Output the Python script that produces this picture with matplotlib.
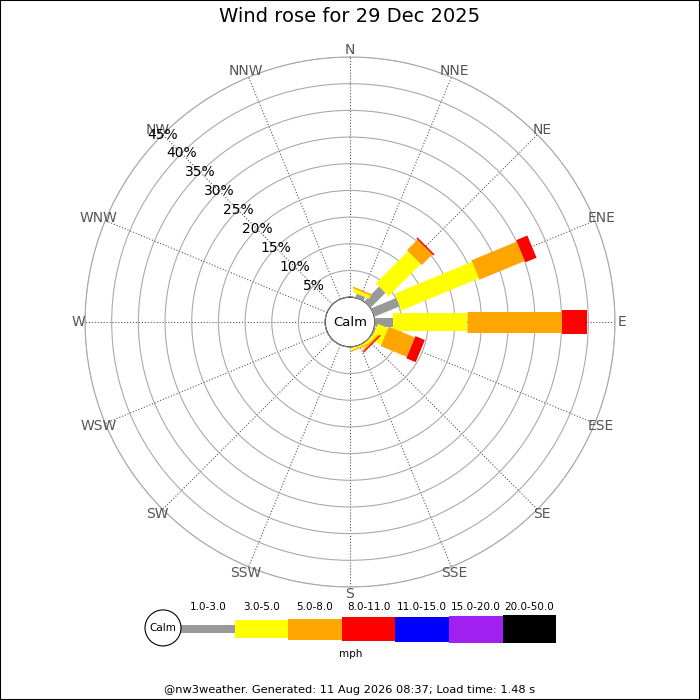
import matplotlib
matplotlib.use('Agg')
import matplotlib.pyplot as plt
from matplotlib.patches import Circle, Rectangle
import numpy as np

# wind directions, 16 points
dirs = ['N', 'NNE', 'NE', 'ENE', 'E', 'ESE', 'SE', 'SSE',
        'S', 'SSW', 'SW', 'WSW', 'W', 'WNW', 'NW', 'NNW']

# % of time in each speed band per direction
band_1_3 = [0, 0.75, 3.9, 5.1, 3.4, 0.3, 0.1, 0.1, 0, 0, 0, 0, 0, 0, 0, 0]
band_3_5 = [0, 0.65, 8.5, 15.7, 13.9, 2.1, 0.6, 0.3, 0, 0, 0, 0, 0, 0, 0, 0]
band_5_8 = [0, 0.3, 2.8, 9.2, 17.8, 5.3, 0.3, 0.2, 0, 0, 0, 0, 0, 0, 0, 0]
band_8_11 = [0, 0, 0.3, 2.25, 4.7, 1.9, 0.25, 0, 0, 0, 0, 0, 0, 0, 0, 0]

bands = [band_1_3, band_3_5, band_5_8, band_8_11]

speed_labels = ['1.0-3.0', '3.0-5.0', '5.0-8.0', '8.0-11.0',
                '11.0-15.0', '15.0-20.0', '20.0-50.0']
colours = ['#999999', '#ffff00', '#ffa500', '#ff0000',
           '#0000ff', '#a020f0', '#000000']
thick_px = [8, 18, 21, 24, 25, 27, 28]

rings = [5, 10, 15, 20, 25, 30, 35, 40, 45]

title = 'Wind rose for 29 Dec 2025'
footer = '@nw3weather. Generated: 11 Aug 2026 08:37; Load time: 1.48 s'

W = 700.0
fig = plt.figure(figsize=(7, 7), dpi=100)

# ---- rose ----
cx, cy, R = 350, 322, 265
ax = fig.add_axes([(cx - R) / W, (W - cy - R) / W, 2 * R / W, 2 * R / W],
                  projection='polar')
ax.set_theta_zero_location('N')
ax.set_theta_direction(-1)
ax.set_ylim(0, 45)
ax.set_rorigin(-4.65)
ax.set_axisbelow(True)

theta = np.deg2rad(np.arange(16) * 22.5)
ax.set_xticks(theta)
ax.set_xticklabels([])
ax.set_yticks(rings)
ax.set_yticklabels([])
ax.xaxis.grid(True, color='#555555', linestyle=':', linewidth=0.8)
ax.yaxis.grid(True, color='#aaaaaa', linestyle='-', linewidth=0.8)
ax.spines['polar'].set_color('#aaaaaa')
ax.spines['polar'].set_linewidth(0.8)
ax.spines['inner'].set_visible(False)
ax.tick_params(length=0)

base = np.zeros(16)
for vals, c, px in zip(bands, colours, thick_px):
    vals = np.array(vals, dtype=float)
    m = vals > 0
    ax.vlines(theta[m], base[m], base[m] + vals[m], colors=c,
              linewidths=(9 if px == 8 else px) * 0.72, capstyle='butt',
              zorder=3)
    base = base + vals

ax.add_patch(Circle((0.5, 0.5), 25.0 / (2 * R), transform=ax.transAxes,
                    facecolor='white', edgecolor='#999999', lw=0.8,
                    zorder=5))
ax.text(0.5, 0.5, 'Calm', transform=ax.transAxes, ha='center', va='center',
        fontsize=9.5, zorder=6)

for t, d in zip(theta, dirs):
    ax.text(t, 46.3, d, ha='center', va='center', fontsize=10,
            color='#555555', clip_on=False)

for p in rings:
    ax.text(np.deg2rad(315), p, '%d%%' % p, ha='center', va='center',
            fontsize=10, zorder=4)

fig.text(0.5, 1 - 17 / W, title, ha='center', va='center', fontsize=14)

# ---- legend ----
u = 53.6  # px per legend unit
lx0, lx1, ly0, ly1 = 140, 570, 595, 665
bx, by = 181, 629
lg = fig.add_axes([lx0 / W, (W - ly1) / W, (lx1 - lx0) / W, (ly1 - ly0) / W])
lg.set_xlim((lx0 - bx) / u, (lx1 - bx) / u)
lg.set_ylim(-(ly1 - by) / u, (by - ly0) / u)
lg.axis('off')
cr = 18 / u
for i, (lab, c, px) in enumerate(zip(speed_labels, colours, thick_px)):
    lg.barh(0, 1, left=i, height=px / u, color=c, align='center')
    lg.text(i + 0.5, 22 / u, lab, ha='center', va='center', fontsize=7.5)
lg.add_patch(Circle((-cr, 0.02), cr, facecolor='white', edgecolor='black',
                    lw=0.8, zorder=4))
lg.text(-cr, 0.02, 'Calm', ha='center', va='center', fontsize=7.5, zorder=5)
lg.text((len(speed_labels) - 2 * cr) / 2, -25 / u, 'mph', ha='center',
        va='center', fontsize=7.5)

fig.text(0.5, 1 - 690 / W, footer, ha='center', va='center', fontsize=8.2)

fig.add_artist(Rectangle((0, 0), 1, 1, transform=fig.transFigure,
                         fill=False, edgecolor='black', lw=1.5))

fig.savefig('out.png', dpi=100)
